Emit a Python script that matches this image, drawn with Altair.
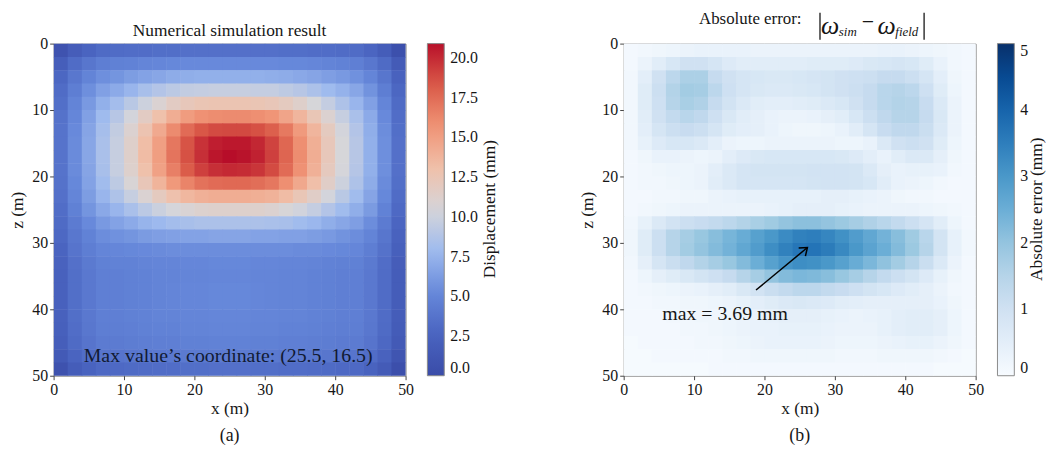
import altair as alt
import pandas as pd

# ---------------- data ----------------
X_CENTERS = [1, 3, 5, 7, 9, 11, 13, 15, 17, 19, 21, 23, 25, 27, 29, 31, 33, 35, 37, 39, 41, 43, 45, 47, 49]
Z_CENTERS = [1, 3, 5, 7, 9, 11, 13, 15, 17, 19, 21, 23, 25, 27, 29, 31, 33, 35, 37, 39, 41, 43, 45, 47, 49]
CELL = 2.0
AXIS_TICKS = [0, 10, 20, 30, 40, 50]
DISP_TICKS = [0.0, 2.5, 5.0, 7.5, 10.0, 12.5, 15.0, 17.5, 20.0]
ERR_TICKS = [0, 1, 2, 3, 4, 5]
DISP_MAX = 20.9
ERR_MAX = 5.0

# displacement field (mm), one list per depth row z, columns follow X_CENTERS
disp_z01 = [0.8, 1.9, 2.6, 3.1, 3.2, 3.3, 3.3, 3.4, 3.4, 3.5, 3.5, 3.5, 3.5, 3.5, 3.5, 3.5, 3.4, 3.4, 3.3, 3.3, 3.2, 3.2, 2.7, 1.8, 0.4]
disp_z03 = [2.0, 3.2, 3.9, 4.5, 4.7, 4.8, 5.0, 5.1, 5.2, 5.3, 5.3, 5.3, 5.3, 5.3, 5.3, 5.3, 5.2, 5.2, 5.1, 4.9, 4.8, 4.6, 4.0, 3.1, 1.6]
disp_z05 = [2.8, 4.0, 4.9, 5.6, 5.9, 6.3, 6.6, 6.8, 7.1, 7.2, 7.3, 7.3, 7.3, 7.3, 7.3, 7.2, 7.1, 6.9, 6.7, 6.4, 6.1, 5.7, 5.0, 3.9, 2.4]
disp_z07 = [3.2, 4.5, 5.6, 6.5, 7.0, 7.6, 8.3, 8.8, 9.2, 9.5, 9.6, 9.7, 9.7, 9.7, 9.6, 9.6, 9.3, 9.0, 8.5, 7.9, 7.4, 6.8, 5.8, 4.5, 2.8]
disp_z09 = [3.4, 4.9, 6.1, 7.3, 8.1, 9.1, 10.0, 10.9, 11.7, 12.2, 12.5, 12.6, 12.6, 12.6, 12.5, 12.3, 11.9, 11.3, 10.5, 9.6, 8.6, 7.6, 6.5, 5.0, 3.1]
disp_z11 = [3.6, 5.1, 6.5, 7.9, 9.0, 10.3, 11.7, 13.0, 14.2, 15.2, 15.8, 16.0, 16.1, 16.1, 15.9, 15.6, 14.7, 13.7, 12.4, 11.0, 9.7, 8.4, 7.0, 5.3, 3.3]
disp_z13 = [3.7, 5.3, 6.7, 8.2, 9.5, 11.0, 12.7, 14.4, 16.1, 17.5, 18.4, 18.8, 18.9, 18.9, 18.6, 18.0, 16.9, 15.3, 13.7, 11.9, 10.3, 8.8, 7.2, 5.5, 3.4]
disp_z15 = [3.7, 5.4, 6.8, 8.4, 9.7, 11.3, 13.2, 15.0, 17.0, 18.5, 19.7, 20.4, 20.6, 20.6, 20.1, 19.1, 17.7, 15.9, 14.1, 12.2, 10.5, 9.0, 7.3, 5.6, 3.5]
disp_z17 = [3.7, 5.4, 6.8, 8.4, 9.7, 11.3, 13.3, 15.1, 17.1, 18.6, 19.8, 20.7, 21.0, 20.8, 20.3, 19.2, 17.8, 16.0, 14.2, 12.2, 10.5, 9.0, 7.3, 5.6, 3.5]
disp_z19 = [3.7, 5.4, 6.7, 8.3, 9.7, 11.2, 13.0, 14.9, 16.6, 18.2, 19.2, 19.8, 20.0, 19.9, 19.6, 18.8, 17.5, 15.8, 14.0, 12.0, 10.4, 8.9, 7.3, 5.6, 3.5]
disp_z21 = [3.6, 5.2, 6.6, 8.0, 9.3, 10.7, 12.3, 13.8, 15.4, 16.4, 17.2, 17.5, 17.6, 17.6, 17.4, 17.0, 15.9, 14.5, 13.1, 11.5, 10.0, 8.6, 7.1, 5.4, 3.4]
disp_z23 = [3.5, 5.0, 6.3, 7.6, 8.6, 9.7, 10.9, 11.9, 12.9, 13.6, 14.0, 14.2, 14.2, 14.2, 14.1, 13.9, 13.3, 12.4, 11.5, 10.3, 9.1, 8.0, 6.7, 5.2, 3.2]
disp_z25 = [3.3, 4.7, 5.9, 6.9, 7.6, 8.4, 9.2, 9.9, 10.4, 10.8, 11.1, 11.2, 11.2, 11.2, 11.2, 11.0, 10.6, 10.2, 9.6, 8.8, 8.0, 7.2, 6.2, 4.8, 3.0]
disp_z27 = [3.1, 4.3, 5.3, 6.1, 6.6, 7.0, 7.5, 7.8, 8.1, 8.3, 8.5, 8.5, 8.5, 8.5, 8.5, 8.4, 8.3, 8.0, 7.7, 7.2, 6.8, 6.4, 5.5, 4.3, 2.7]
disp_z29 = [2.9, 4.0, 4.8, 5.5, 5.7, 5.9, 6.2, 6.4, 6.5, 6.6, 6.6, 6.7, 6.7, 6.7, 6.6, 6.6, 6.5, 6.5, 6.3, 6.1, 5.8, 5.5, 4.9, 3.9, 2.4]
disp_z31 = [2.6, 3.8, 4.5, 5.0, 5.1, 5.2, 5.3, 5.4, 5.5, 5.5, 5.5, 5.5, 5.5, 5.5, 5.5, 5.5, 5.5, 5.4, 5.4, 5.3, 5.2, 5.1, 4.5, 3.6, 2.2]
disp_z33 = [2.4, 3.5, 4.2, 4.7, 4.8, 4.8, 4.9, 5.0, 5.0, 5.1, 5.1, 5.2, 5.2, 5.2, 5.1, 5.1, 5.0, 5.0, 4.9, 4.8, 4.7, 4.7, 4.2, 3.3, 1.9]
disp_z35 = [2.3, 3.4, 4.1, 4.6, 4.6, 4.7, 4.8, 4.9, 4.9, 5.0, 5.0, 5.1, 5.1, 5.1, 5.0, 5.0, 4.9, 4.9, 4.8, 4.7, 4.6, 4.6, 4.1, 3.2, 1.8]
disp_z37 = [2.3, 3.4, 4.1, 4.6, 4.6, 4.7, 4.8, 4.9, 5.0, 5.1, 5.1, 5.2, 5.2, 5.2, 5.1, 5.0, 4.9, 4.9, 4.8, 4.7, 4.6, 4.6, 4.1, 3.2, 1.8]
disp_z39 = [2.3, 3.4, 4.1, 4.6, 4.6, 4.7, 4.8, 4.9, 5.0, 5.1, 5.1, 5.2, 5.2, 5.2, 5.1, 5.0, 4.9, 4.9, 4.8, 4.7, 4.6, 4.6, 4.1, 3.2, 1.8]
disp_z41 = [2.3, 3.4, 4.1, 4.6, 4.6, 4.7, 4.8, 4.9, 4.9, 5.0, 5.0, 5.1, 5.1, 5.1, 5.0, 5.0, 4.9, 4.9, 4.8, 4.7, 4.6, 4.6, 4.1, 3.2, 1.8]
disp_z43 = [2.2, 3.3, 4.0, 4.5, 4.5, 4.6, 4.7, 4.8, 4.8, 4.9, 4.9, 5.0, 5.0, 5.0, 4.9, 4.9, 4.8, 4.8, 4.7, 4.6, 4.5, 4.5, 4.0, 3.1, 1.7]
disp_z45 = [2.0, 3.1, 3.8, 4.3, 4.3, 4.4, 4.5, 4.6, 4.6, 4.7, 4.7, 4.8, 4.8, 4.8, 4.7, 4.7, 4.6, 4.6, 4.5, 4.4, 4.3, 4.3, 3.8, 2.9, 1.5]
disp_z47 = [1.5, 2.6, 3.3, 3.8, 3.8, 3.9, 4.0, 4.1, 4.1, 4.2, 4.2, 4.3, 4.3, 4.3, 4.2, 4.2, 4.1, 4.1, 4.0, 3.9, 3.8, 3.8, 3.3, 2.4, 1.0]
disp_z49 = [0.7, 1.8, 2.5, 3.0, 3.0, 3.1, 3.2, 3.3, 3.3, 3.4, 3.4, 3.5, 3.5, 3.5, 3.4, 3.4, 3.3, 3.3, 3.2, 3.1, 3.0, 3.0, 2.5, 1.6, 0.3]

# absolute error field (mm)
err_z01 = [0.10, 0.15, 0.20, 0.25, 0.30, 0.35, 0.35, 0.35, 0.35, 0.30, 0.30, 0.30, 0.30, 0.30, 0.30, 0.30, 0.30, 0.30, 0.35, 0.35, 0.30, 0.25, 0.20, 0.15, 0.10]
err_z03 = [0.10, 0.30, 0.55, 0.80, 1.00, 1.00, 0.85, 0.65, 0.55, 0.55, 0.55, 0.55, 0.55, 0.60, 0.60, 0.60, 0.65, 0.75, 0.80, 0.85, 0.80, 0.60, 0.35, 0.15, 0.10]
err_z05 = [0.15, 0.50, 1.00, 1.40, 1.65, 1.65, 1.25, 1.00, 0.85, 0.80, 0.75, 0.75, 0.80, 0.85, 0.90, 1.00, 1.05, 1.10, 1.25, 1.25, 1.10, 0.85, 0.50, 0.20, 0.10]
err_z07 = [0.15, 0.60, 1.10, 1.55, 1.80, 1.75, 1.40, 1.05, 0.85, 0.75, 0.70, 0.70, 0.75, 0.80, 0.90, 1.00, 1.10, 1.25, 1.45, 1.50, 1.40, 1.05, 0.60, 0.25, 0.10]
err_z09 = [0.15, 0.60, 1.05, 1.50, 1.70, 1.60, 1.25, 0.95, 0.70, 0.55, 0.50, 0.50, 0.55, 0.60, 0.70, 0.80, 1.00, 1.25, 1.45, 1.55, 1.50, 1.20, 0.70, 0.30, 0.10]
err_z11 = [0.15, 0.55, 1.00, 1.30, 1.45, 1.35, 1.05, 0.75, 0.55, 0.45, 0.35, 0.30, 0.30, 0.35, 0.45, 0.55, 0.80, 1.10, 1.35, 1.50, 1.50, 1.25, 0.75, 0.30, 0.10]
err_z13 = [0.15, 0.50, 0.85, 1.10, 1.20, 1.10, 0.85, 0.60, 0.50, 0.45, 0.35, 0.25, 0.20, 0.20, 0.25, 0.35, 0.55, 0.85, 1.20, 1.35, 1.35, 1.15, 0.70, 0.30, 0.10]
err_z15 = [0.15, 0.40, 0.65, 0.80, 0.80, 0.70, 0.50, 0.30, 0.25, 0.25, 0.30, 0.30, 0.30, 0.30, 0.30, 0.25, 0.25, 0.35, 0.70, 1.00, 1.10, 1.00, 0.60, 0.25, 0.10]
err_z17 = [0.10, 0.20, 0.35, 0.35, 0.30, 0.25, 0.30, 0.50, 0.65, 0.75, 0.80, 0.80, 0.80, 0.80, 0.80, 0.75, 0.65, 0.50, 0.35, 0.55, 0.70, 0.70, 0.45, 0.20, 0.10]
err_z19 = [0.10, 0.15, 0.20, 0.25, 0.25, 0.30, 0.50, 0.70, 0.85, 0.90, 0.90, 0.90, 0.90, 0.95, 0.95, 0.95, 0.90, 0.70, 0.45, 0.35, 0.40, 0.40, 0.35, 0.15, 0.10]
err_z21 = [0.10, 0.15, 0.15, 0.20, 0.25, 0.30, 0.55, 0.70, 0.85, 0.85, 0.85, 0.85, 0.85, 0.90, 0.95, 0.95, 0.90, 0.80, 0.55, 0.35, 0.30, 0.25, 0.15, 0.10, 0.10]
err_z23 = [0.10, 0.10, 0.15, 0.15, 0.20, 0.20, 0.30, 0.35, 0.40, 0.40, 0.40, 0.40, 0.40, 0.40, 0.45, 0.45, 0.40, 0.35, 0.30, 0.20, 0.15, 0.15, 0.10, 0.10, 0.10]
err_z25 = [0.10, 0.15, 0.20, 0.25, 0.30, 0.30, 0.30, 0.30, 0.30, 0.30, 0.35, 0.40, 0.45, 0.45, 0.45, 0.40, 0.35, 0.30, 0.30, 0.30, 0.30, 0.25, 0.20, 0.15, 0.10]
err_z27 = [0.15, 0.40, 0.70, 0.95, 1.10, 1.20, 1.30, 1.40, 1.55, 1.70, 1.85, 2.00, 2.10, 2.10, 2.00, 1.90, 1.75, 1.60, 1.45, 1.30, 1.10, 0.85, 0.55, 0.25, 0.10]
err_z29 = [0.20, 0.60, 1.10, 1.50, 1.75, 1.95, 2.15, 2.35, 2.55, 2.80, 3.00, 3.25, 3.45, 3.50, 3.35, 3.15, 2.90, 2.65, 2.40, 2.15, 1.85, 1.45, 0.90, 0.40, 0.15]
err_z31 = [0.20, 0.60, 1.10, 1.50, 1.80, 2.00, 2.20, 2.40, 2.65, 2.90, 3.20, 3.45, 3.65, 3.69, 3.55, 3.30, 3.00, 2.75, 2.50, 2.20, 1.90, 1.50, 0.90, 0.40, 0.15]
err_z33 = [0.15, 0.45, 0.85, 1.15, 1.35, 1.55, 1.75, 1.95, 2.20, 2.50, 2.80, 3.05, 3.20, 3.15, 3.00, 2.80, 2.55, 2.30, 2.05, 1.80, 1.50, 1.15, 0.70, 0.30, 0.10]
err_z35 = [0.10, 0.25, 0.45, 0.60, 0.75, 0.90, 1.05, 1.25, 1.50, 1.75, 2.00, 2.20, 2.30, 2.25, 2.15, 1.95, 1.75, 1.50, 1.30, 1.10, 0.90, 0.65, 0.40, 0.20, 0.10]
err_z37 = [0.10, 0.15, 0.20, 0.25, 0.30, 0.35, 0.45, 0.55, 0.75, 0.95, 1.15, 1.30, 1.40, 1.40, 1.30, 1.20, 1.05, 0.90, 0.80, 0.65, 0.55, 0.45, 0.30, 0.15, 0.10]
err_z39 = [0.10, 0.10, 0.15, 0.15, 0.20, 0.20, 0.25, 0.30, 0.40, 0.50, 0.60, 0.70, 0.75, 0.70, 0.65, 0.55, 0.50, 0.45, 0.45, 0.45, 0.45, 0.45, 0.35, 0.20, 0.10]
err_z41 = [0.10, 0.10, 0.10, 0.15, 0.15, 0.20, 0.20, 0.25, 0.30, 0.35, 0.40, 0.45, 0.45, 0.45, 0.40, 0.35, 0.30, 0.35, 0.40, 0.50, 0.55, 0.55, 0.45, 0.25, 0.10]
err_z43 = [0.10, 0.10, 0.10, 0.10, 0.15, 0.15, 0.20, 0.25, 0.30, 0.35, 0.35, 0.40, 0.40, 0.40, 0.35, 0.30, 0.30, 0.30, 0.40, 0.50, 0.55, 0.55, 0.45, 0.25, 0.10]
err_z45 = [0.05, 0.10, 0.10, 0.10, 0.10, 0.15, 0.15, 0.20, 0.25, 0.30, 0.35, 0.35, 0.35, 0.35, 0.30, 0.25, 0.25, 0.25, 0.30, 0.35, 0.40, 0.40, 0.30, 0.20, 0.10]
err_z47 = [0.05, 0.05, 0.10, 0.10, 0.10, 0.10, 0.10, 0.15, 0.15, 0.20, 0.20, 0.20, 0.20, 0.20, 0.20, 0.15, 0.15, 0.15, 0.20, 0.20, 0.20, 0.20, 0.15, 0.10, 0.05]
err_z49 = [0.05, 0.05, 0.05, 0.05, 0.05, 0.05, 0.10, 0.10, 0.10, 0.10, 0.10, 0.10, 0.10, 0.10, 0.10, 0.10, 0.10, 0.10, 0.10, 0.10, 0.10, 0.10, 0.05, 0.05, 0.05]

DISP_ROWS = [disp_z01, disp_z03, disp_z05, disp_z07, disp_z09, disp_z11, disp_z13, disp_z15, disp_z17,
             disp_z19, disp_z21, disp_z23, disp_z25, disp_z27, disp_z29, disp_z31, disp_z33, disp_z35,
             disp_z37, disp_z39, disp_z41, disp_z43, disp_z45, disp_z47, disp_z49]
ERR_ROWS = [err_z01, err_z03, err_z05, err_z07, err_z09, err_z11, err_z13, err_z15, err_z17,
            err_z19, err_z21, err_z23, err_z25, err_z27, err_z29, err_z31, err_z33, err_z35,
            err_z37, err_z39, err_z41, err_z43, err_z45, err_z47, err_z49]

# annotations
MAX_LABEL = "Max value\u2019s coordinate: (25.5, 16.5)"
MAX_LABEL_POS = (24.8, 47.0)
ERR_LABEL = "max = 3.69  mm"
ERR_LABEL_POS = (14.4, 40.7)
ARROW_FROM = (18.8, 37.1)
ARROW_TO = (26.1, 30.7)

# ---------------- styling ----------------
FONT = "Liberation Serif"
INK = "#161616"
PLOT_W = 355
PLOT_H = 335
SEAM = 0.08  # tiny overlap so that neighbouring cells leave no hairline gaps
# colour stops as they appear on the printed colour bars
COOLWARM = ["#3a4ca8", "#4a64c0", "#6688da", "#9ebaee", "#d6d6da",
            "#f0c0aa", "#f09476", "#da5a48", "#b8102a"]
BLUES = ["#f7fbff", "#deebf7", "#c6dbef", "#9ecae1", "#6baed6",
         "#4292c6", "#2171b5", "#08519c", "#08306b"]


def stops(vmax, n):
    return [vmax * i / (n - 1) for i in range(n)]


def grid_frame(rows):
    recs = []
    for z, row in zip(Z_CENTERS, rows):
        for x, v in zip(X_CENTERS, row):
            recs.append({"x0": x - CELL / 2, "x1": x + CELL / 2 + SEAM,
                         "z0": z - CELL / 2, "z1": z + CELL / 2 + SEAM, "v": v})
    return pd.DataFrame(recs)


def x_enc(field):
    return alt.X(f"{field}:Q", scale=alt.Scale(domain=[0, 50], nice=False, zero=False),
                 axis=alt.Axis(values=AXIS_TICKS, title="x (m)"))


def y_enc(field):
    return alt.Y(f"{field}:Q", scale=alt.Scale(domain=[0, 50], nice=False, zero=False, reverse=True),
                 axis=alt.Axis(values=AXIS_TICKS, title="z (m)"))


def heat(df, colors, vmax, legend):
    sc = alt.Scale(domain=stops(vmax, len(colors)), range=colors, interpolate="rgb")
    return alt.Chart(df).mark_rect(clip=True, strokeWidth=0).encode(
        x=x_enc("x0"), x2="x1", y=y_enc("z0"), y2="z1",
        color=alt.Color("v:Q", scale=sc, legend=legend),
    )


ONE = pd.DataFrame({"k": [0]})


def label(text, x, y, size, align="left", style="normal", color=INK, angle=0, baseline="alphabetic"):
    return alt.Chart(ONE).mark_text(text=text, align=align, baseline=baseline, font=FONT,
                                     fontSize=size, fontStyle=style, color=color, angle=angle).encode(
        x=alt.value(x), y=alt.value(y))


def bar(x, y1, y2):
    return alt.Chart(ONE).mark_rule(color=INK, strokeWidth=1.3).encode(
        x=alt.value(x), y=alt.value(y1), y2=alt.value(y2))


common_legend = dict(type="gradient", orient="right", offset=22, gradientLength=PLOT_H,
                     gradientThickness=17, title=None, labelOffset=6, labelBaseline="middle",
                     labelAlign="left", labelOverlap=False, gradientStrokeColor="#8a8a8a",
                     gradientStrokeWidth=1, direction="vertical")

disp_df = grid_frame(DISP_ROWS)
err_df = grid_frame(ERR_ROWS)

# ---------------- panel (a) ----------------
heat_a = heat(disp_df, COOLWARM, DISP_MAX,
              alt.Legend(values=DISP_TICKS, format=".1f", **common_legend))

note_a = alt.Chart(pd.DataFrame({"x": [MAX_LABEL_POS[0]], "z": [MAX_LABEL_POS[1]], "t": [MAX_LABEL]})).mark_text(
    font=FONT, fontSize=20, color="#111a33", align="center", baseline="middle").encode(
    x=x_enc("x"), y=y_enc("z"), text="t:N")

panel_a = alt.layer(
    heat_a, note_a,
    label("Numerical simulation result", PLOT_W / 2, -8, 17.5, align="center"),
    label("Displacement (mm)", 440, 167, 17.5, align="center", angle=270, baseline="middle"),
    label("(a)", PLOT_W / 2, 401, 18, align="center"),
).properties(width=PLOT_W, height=PLOT_H)

# ---------------- panel (b) ----------------
heat_b = heat(err_df, BLUES, ERR_MAX,
              alt.Legend(values=ERR_TICKS, format="d", **common_legend))

arrow_df = pd.DataFrame({"x": [ARROW_FROM[0]], "z": [ARROW_FROM[1]],
                         "x2": [ARROW_TO[0]], "z2": [ARROW_TO[1]]})
arrow_line = alt.Chart(arrow_df).mark_rule(color="black", strokeWidth=1.5).encode(
    x=x_enc("x"), y=y_enc("z"), x2="x2", y2="z2")
arrow_head = alt.Chart(pd.DataFrame({"x": [ARROW_TO[0]], "z": [ARROW_TO[1]]})).mark_point(
    shape="M -1 -0.75 L 0 0 L -1 0.75", filled=False, stroke="black", strokeWidth=1.5,
    size=200, angle=320, opacity=1).encode(x=x_enc("x"), y=y_enc("z"))
note_b = alt.Chart(pd.DataFrame({"x": [ERR_LABEL_POS[0]], "z": [ERR_LABEL_POS[1]], "t": [ERR_LABEL]})).mark_text(
    font=FONT, fontSize=20, color=INK, align="center", baseline="middle").encode(
    x=x_enc("x"), y=y_enc("z"), text="t:N")

title_b = [
    label("Absolute error:", 76, -20, 17),
    bar(198, -31, -4),
    label("\u03c9", 199, -10, 26, style="italic"),
    label("sim", 217, -8, 13, style="italic"),
    label("\u2212", 240, -15, 22),
    label("\u03c9", 256, -10, 26, style="italic"),
    label("field", 274, -8, 13, style="italic"),
    bar(303, -31, -4),
]

panel_b = alt.layer(
    heat_b, arrow_line, arrow_head, note_b, *title_b,
    label("Absolute error (mm)", 417, 167, 17.5, align="center", angle=270, baseline="middle"),
    label("(b)", PLOT_W / 2, 401, 18, align="center"),
).properties(width=PLOT_W, height=PLOT_H)

chart = alt.hconcat(panel_a, panel_b, spacing=80).resolve_scale(
    color="independent"
).configure(
    padding={"left": 0, "top": -1, "right": 5, "bottom": 2},
    background="white",
).configure_view(
    stroke="#8a8a8a", strokeWidth=1
).configure_axis(
    labelFont=FONT, labelFontSize=16, labelColor=INK, titleFont=FONT, titleFontSize=17.5,
    titleFontWeight="normal", titleColor=INK, tickColor="#444444", tickSize=4, domain=False,
    grid=False, labelFlush=False, labelPadding=2
).configure_axisX(
    titlePadding=2
).configure_axisY(
    titlePadding=5
).configure_legend(
    labelFont=FONT, labelFontSize=16, labelColor=INK
)

chart.save("out.html", embed_options={"renderer": "svg", "actions": False})
